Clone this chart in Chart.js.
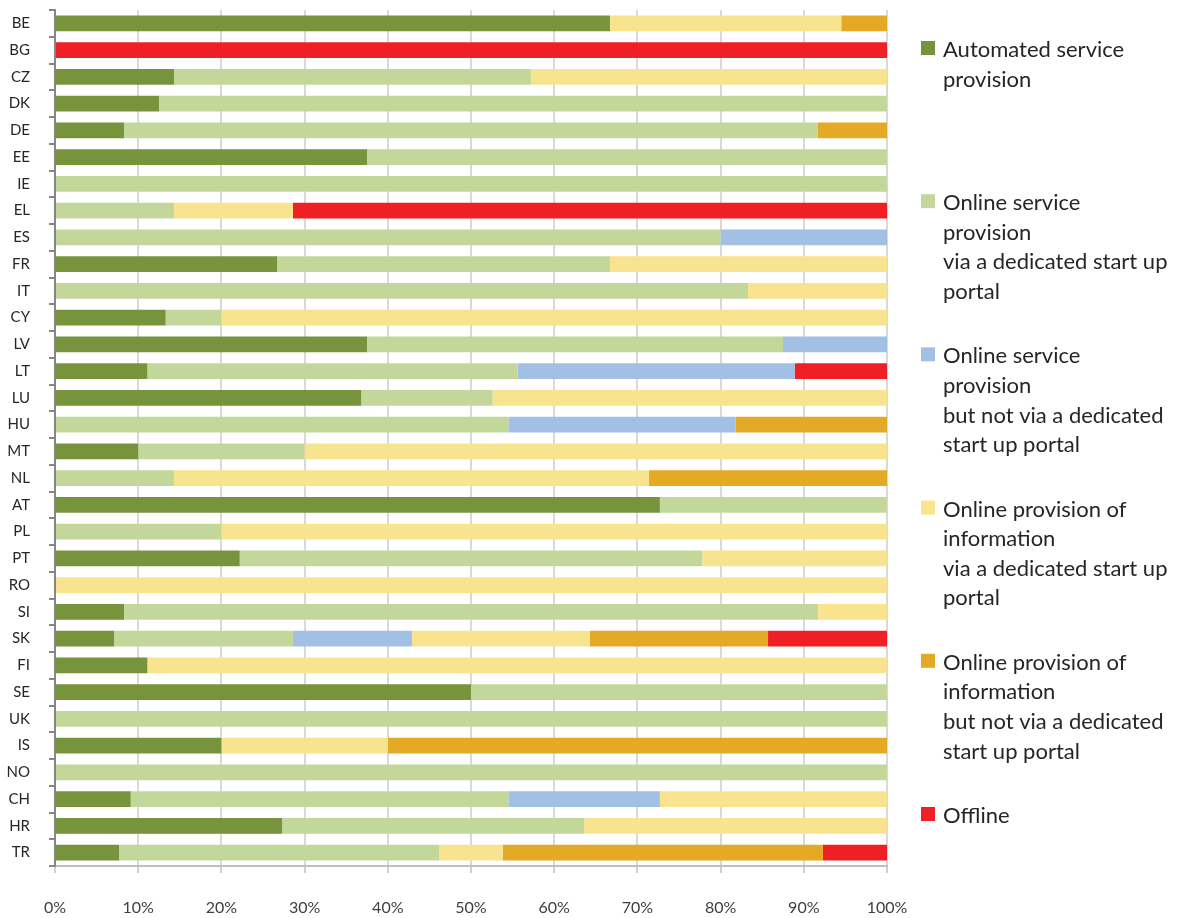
<!DOCTYPE html>
<html>
<head>
<meta charset="utf-8">
<script src="https://cdn.jsdelivr.net/npm/chart.js@4/dist/chart.umd.min.js"></script>
<style>
  html, body { margin: 0; padding: 0; background: #ffffff; }
  #wrap { position: relative; width: 1181px; height: 918px; }
</style>
</head>
<body>
<div id="wrap"><canvas id="c" width="1181" height="918"></canvas></div>
<script>
const categories = ["BE","BG","CZ","DK","DE","EE","IE","EL","ES","FR","IT","CY","LV","LT","LU","HU","MT","NL","AT","PL","PT","RO","SI","SK","FI","SE","UK","IS","NO","CH","HR","TR"];

const seriesNames = [
  ["Automated service", "provision"],
  ["Online service", "provision", "via a dedicated start up", "portal"],
  ["Online service", "provision", "but not via a dedicated", "start up portal"],
  ["Online provision of", "information", "via a dedicated start up", "portal"],
  ["Online provision of", "information", "but not via a dedicated", "start up portal"],
  ["Offline"]
];

const automated =        [66.7,0,14.3,12.5,8.3,37.5,0,0,0,26.7,0,13.3,37.5,11.1,36.8,0,10,0,72.7,0,22.2,0,8.3,7.1,11.1,50,0,20,0,9.1,27.3,7.7];
const onlineDedicated =  [0,0,42.9,87.5,83.4,62.5,100,14.3,80,40.0,83.3,6.7,50,44.5,15.8,54.5,20,14.3,27.3,20,55.6,0,83.4,21.5,0,50,100,0,100,45.4,36.3,38.5];
const onlineNotDedicated=[0,0,0,0,0,0,0,0,20,0,0,0,12.5,33.3,0,27.3,0,0,0,0,0,0,0,14.3,0,0,0,0,0,18.2,0,0];
const infoDedicated =    [27.8,0,42.8,0,0,0,0,14.3,0,33.3,16.7,80,0,0,47.4,0,70,57.1,0,80,22.2,100,8.3,21.4,88.9,0,0,20,0,27.3,36.4,7.6];
const infoNotDedicated = [5.5,0,0,0,8.3,0,0,0,0,0,0,0,0,0,0,18.2,0,28.6,0,0,0,0,0,21.4,0,0,0,60,0,0,0,38.5];
const offline =          [0,100,0,0,0,0,0,71.4,0,0,0,0,0,11.1,0,0,0,0,0,0,0,0,0,14.3,0,0,0,0,0,0,0,7.7];

const tickValues = [0,10,20,30,40,50,60,70,80,90,100];

const seriesColors = ["#77933c","#c4d79b","#a2c0e4","#f8e48e","#e4a925","#ee2026"];
const seriesData = [automated, onlineDedicated, onlineNotDedicated, infoDedicated, infoNotDedicated, offline];

const FONT = "Lato, 'Open Sans', 'Liberation Sans', sans-serif";

const legendPlugin = {
  id: 'wrapLegend',
  afterDraw(chart) {
    const ctx = chart.ctx;
    ctx.save();
    const firstY = 50, step = 153.2, lineH = 29.6;
    ctx.font = "22px " + FONT;
    ctx.textBaseline = "middle";
    ctx.textAlign = "left";
    seriesNames.forEach((lines, i) => {
      const y = firstY + i * step;
      ctx.fillStyle = seriesColors[i];
      ctx.fillRect(921, y - 9, 14, 14);
      ctx.fillStyle = "#262626";
      lines.forEach((ln, j) => ctx.fillText(ln, 943, y + j * lineH));
    });
    ctx.restore();
  }
};

new Chart(document.getElementById('c'), {
  type: 'bar',
  data: {
    labels: categories,
    datasets: seriesData.map((d, i) => ({
      label: seriesNames[i].join(' '),
      data: d,
      backgroundColor: seriesColors[i],
      borderWidth: 0,
      categoryPercentage: 1,
      barPercentage: 0.58
    }))
  },
  options: {
    indexAxis: 'y',
    responsive: false,
    animation: false,
    devicePixelRatio: 1,
    layout: { padding: { top: 10, right: 294, bottom: 0, left: 0 } },
    plugins: { legend: { display: false }, tooltip: { enabled: false } },
    scales: {
      x: {
        stacked: true,
        min: 0, max: 100,
        afterBuildTicks: (s) => { s.ticks = tickValues.map(v => ({ value: v })); },
        afterFit: (s) => { s.height = 52; s.paddingLeft = 0; s.paddingRight = 0; },
        ticks: {
          callback: (v) => v + '%',
          font: { family: FONT, size: 16 },
          color: '#404040',
          padding: 25,
          maxRotation: 0
        },
        grid: { color: '#d9d9d9', lineWidth: 2, tickLength: 7, tickColor: '#d0d0d0', drawTicks: true },
        border: { color: '#bfbfbf', width: 2 }
      },
      y: {
        stacked: true,
        afterFit: (s) => { s.width = 55; s.paddingTop = 0; s.paddingBottom = 0; },
        ticks: {
          font: { family: FONT, size: 15 },
          color: '#262626',
          padding: 19,
          autoSkip: false
        },
        grid: { drawOnChartArea: false, drawTicks: true, tickLength: 6, color: '#868686', lineWidth: 2, offset: true },
        border: { color: '#868686', width: 2 }
      }
    }
  },
  plugins: [legendPlugin]
});
</script>
</body>
</html>
